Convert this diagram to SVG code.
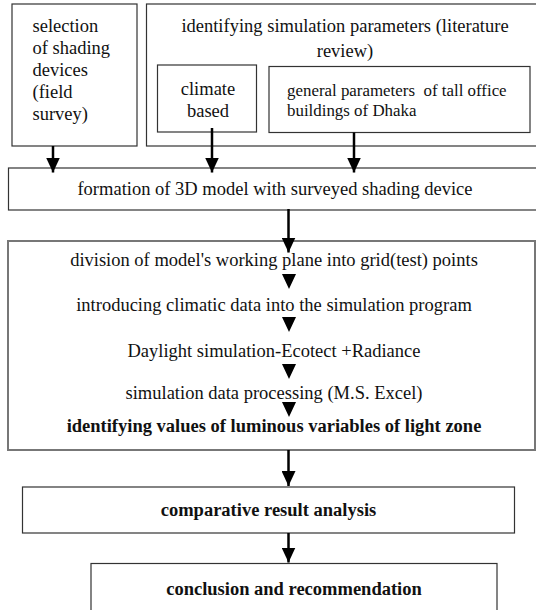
<svg xmlns="http://www.w3.org/2000/svg" width="536" height="610" viewBox="0 0 536 610">
<style>
.box{fill:#fff;stroke:#333;stroke-width:1.2}
.gbox{fill:#fff;stroke:#777;stroke-width:2}
text{font-family:'Liberation Serif','Times New Roman',Tinos,'DejaVu Serif',serif;font-size:18.5px;fill:#111}
.s{font-size:16.9px;white-space:pre}
.b{font-weight:bold}
.m{text-anchor:middle}
.ln{stroke:#000;stroke-width:2.5;fill:none}
.tri{fill:#000}
</style>
<defs>
<marker id="ah" viewBox="0 0 15 14" refX="15" refY="7" markerWidth="15" markerHeight="14" markerUnits="userSpaceOnUse" orient="auto">
<path d="M0,0 L15,7 L0,14 Z" fill="#000"/>
</marker>
</defs>
<g id="selection">
<rect class="box" x="12" y="4" width="125" height="142"/>
<text x="32.5" y="32">selection</text>
<text x="32.5" y="54">of shading</text>
<text x="32.5" y="76">devices</text>
<text x="32.5" y="98">(field</text>
<text x="32.5" y="120">survey)</text>
</g>
<g id="parameters">
<rect class="box" x="146.5" y="4" width="400" height="142"/>
<text class="m" x="345" y="32">identifying simulation parameters (literature</text>
<text class="m" x="345" y="57">review)</text>
</g>
<g id="climate">
<rect class="box" x="157.5" y="65" width="99" height="67"/>
<text class="m" x="208" y="95">climate</text>
<text class="m" x="208" y="117">based</text>
</g>
<g id="general">
<rect class="box" x="269" y="66.5" width="261" height="66"/>
<text class="s" x="287" y="96" xml:space="preserve">general parameters  of tall office</text>
<text class="s" x="287" y="116">buildings of Dhaka</text>
</g>
<g id="formation">
<rect class="box" x="8.5" y="168" width="540" height="42"/>
<text class="m" x="275" y="195">formation of 3D model with surveyed shading device</text>
</g>
<g id="process">
<rect class="gbox" x="8" y="241" width="527" height="209"/>
<text class="m" x="274" y="266">division of model's working plane into grid(test) points</text>
<text class="m" x="274" y="311">introducing climatic data into the simulation program</text>
<text class="m" x="274" y="357">Daylight simulation-Ecotect +Radiance</text>
<text class="m" x="274" y="399">simulation data processing (M.S. Excel)</text>
<text class="m b" x="274" y="432">identifying values of luminous variables of light zone</text>
</g>
<g id="comparative">
<rect class="box" x="22.5" y="487" width="492" height="46"/>
<text class="m b" x="268.5" y="516">comparative result analysis</text>
</g>
<g id="conclusion">
<rect class="box" x="91" y="563.5" width="406" height="60"/>
<text class="m b" x="294" y="595">conclusion and recommendation</text>
</g>
<g id="connectors">
<line class="ln" x1="53" y1="146" x2="53" y2="172.5" marker-end="url(#ah)"/>
<line class="ln" x1="212" y1="128" x2="212" y2="172.5" marker-end="url(#ah)"/>
<line class="ln" x1="354" y1="132.5" x2="354" y2="172.5" marker-end="url(#ah)"/>
<line class="ln" x1="288.5" y1="209" x2="288.5" y2="252.5" marker-end="url(#ah)"/>
<path class="tri" d="M282,274 L296,274 L289,289 Z"/>
<path class="tri" d="M282,317 L296,317 L289,332 Z"/>
<path class="tri" d="M282,364 L296,364 L289,379 Z"/>
<path class="tri" d="M282,402 L296,402 L289,417 Z"/>
<line class="ln" x1="288.5" y1="450" x2="288.5" y2="486" marker-end="url(#ah)"/>
<line class="ln" x1="288.5" y1="533" x2="288.5" y2="562.5" marker-end="url(#ah)"/>
</g>
</svg>
